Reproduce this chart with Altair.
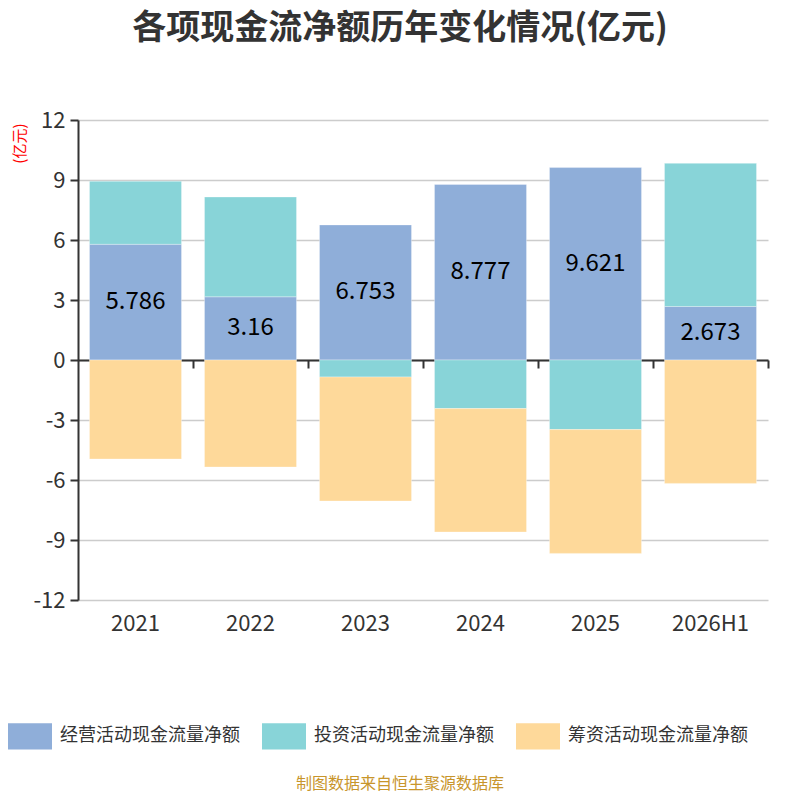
import altair as alt
import pandas as pd

years = ["2021", "2022", "2023", "2024", "2025", "2026H1"]
series = ["经营活动现金流量净额", "投资活动现金流量净额", "筹资活动现金流量净额"]
operating = [5.786, 3.16, 6.753, 8.777, 9.621, 2.673]
investing = [3.15, 4.99, -0.85, -2.43, -3.48, 7.16]
financing = [-4.95, -5.35, -6.2, -6.17, -6.19, -6.17]
colors = ["#8FAED9", "#88D4D8", "#FED99A"]
y_ticks = [-12, -9, -6, -3, 0, 3, 6, 9, 12]

rows = []
for i, y in enumerate(years):
    for k, (s, vals) in enumerate(zip(series, [operating, investing, financing])):
        rows.append({"year": y, "series": s, "order": k, "value": vals[i]})
df = pd.DataFrame(rows)
lab = pd.DataFrame({"year": years, "value": operating, "mid": [v / 2 for v in operating]})

FONT = "Noto Sans CJK SC"
W, H = 690, 480

xscale = alt.Scale(domain=years, paddingInner=0.2, paddingOuter=0.1)
yscale = alt.Scale(domain=[-12, 12], nice=False)

bars = alt.Chart(df).mark_bar(stroke="white", strokeWidth=0.5, strokeOpacity=0.6).encode(
    x=alt.X("year:N", scale=xscale, sort=years,
            axis=alt.Axis(title=None, domain=False, ticks=False, labelFontSize=22,
                          labelColor="#333333", labelFont=FONT, labelAngle=0, labelPadding=13)),
    y=alt.Y("value:Q", stack="zero", scale=yscale,
            axis=alt.Axis(values=y_ticks, title="(亿元)", titleColor="red", titleFontSize=15,
                          titleFontWeight="normal", titleFont=FONT,
                          titleAngle=-90, titleX=-59, titleY=3, titleAlign="right",
                          titleBaseline="middle",
                          labelExpr="datum.value < 0 ? '-' + abs(datum.value) : '' + datum.value",
                          labelFontSize=22, labelColor="#333333", labelFont=FONT,
                          gridColor="#CCCCCC", gridWidth=1.5, domainColor="#333333",
                          domainWidth=2, tickColor="#333333", tickWidth=2, tickSize=8,
                          labelPadding=5)),
    color=alt.Color("series:N", sort=series,
                    scale=alt.Scale(domain=series, range=colors),
                    legend=alt.Legend(title=None, orient="none", direction="horizontal",
                                      legendX=-70, legendY=594, labelFontSize=18,
                                      labelColor="#333333", labelFont=FONT,
                                      symbolType="M-1,-0.6L1,-0.6L1,0.6L-1,0.6Z",
                                      symbolSize=1936, symbolStrokeWidth=0,
                                      symbolOpacity=1, labelOffset=8, columnPadding=22,
                                      labelLimit=300)),
    order=alt.Order("order:Q"),
)

zero = alt.Chart(lab).mark_rule(opacity=0).encode(
    x=alt.X("year:N", scale=xscale, sort=years,
            axis=alt.Axis(title=None, labels=False, orient="bottom", offset=-240,
                          domainColor="#333333", domainWidth=2, tickColor="#333333",
                          tickWidth=2, tickSize=8, bandPosition=1.125, grid=False)),
    y=alt.Y("value:Q", scale=yscale, axis=None),
)

labels = alt.Chart(lab).mark_text(fontSize=24, font=FONT, color="#000000").encode(
    x=alt.X("year:N", scale=xscale, sort=years, axis=None),
    y=alt.Y("mid:Q", scale=yscale, axis=None),
    text=alt.Text("value:Q"),
)

footer = alt.Chart(lab.head(1)).mark_text(fontSize=16, font=FONT, color="#C8952B").encode(
    x=alt.value(322), y=alt.value(664), text=alt.value("制图数据来自恒生聚源数据库"),
)

chart = alt.layer(bars, zero, labels, footer).resolve_axis(x="independent", y="independent").properties(
    width=W, height=H,
    title=alt.TitleParams("各项现金流净额历年变化情况(亿元)", fontSize=34, font=FONT,
                          fontWeight="bold", color="#333333", anchor="middle",
                          dx=-23, offset=63),
    autosize=alt.AutoSizeParams(type="none"),
    padding={"left": 70, "top": 112, "right": 24, "bottom": 192},
).configure_view(stroke=None)

chart.save("out.html", embed_options={"renderer": "svg", "actions": False})
